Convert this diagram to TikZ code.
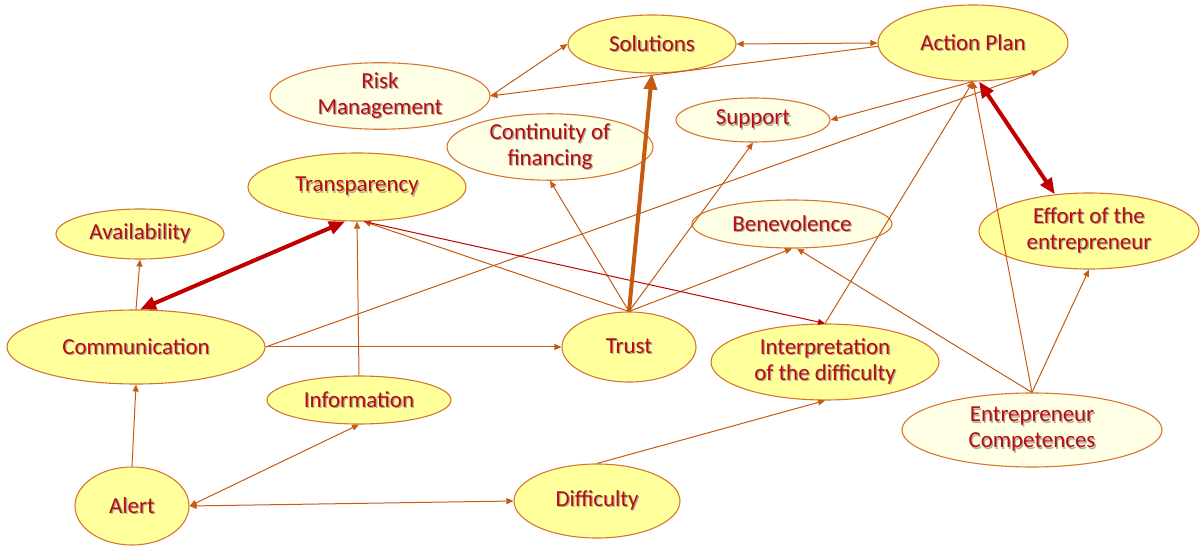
\documentclass[tikz,border=0pt]{standalone}
\usepackage{fontspec}
\setmainfont{Carlito}
\usetikzlibrary{arrows.meta,shapes.geometric}
\definecolor{lineor}{RGB}{197,90,17}
\definecolor{bord}{RGB}{214,118,48}
\definecolor{dred}{RGB}{192,0,0}
\definecolor{txt}{RGB}{185,10,20}
\definecolor{shad}{RGB}{175,170,150}
\definecolor{yel}{RGB}{255,255,155}
\definecolor{crm}{RGB}{255,255,230}
\newcommand\shtx[1]{\leavevmode\rlap{\hspace{1.3bp}\raisebox{-1.3bp}{\textcolor{shad}{#1}}}#1}
\tikzset{
  bub/.style={ellipse, draw=bord, line width=1.1bp, inner sep=0pt, align=center,
    text=txt, font=\fontsize{23}{26}\selectfont},
  ybub/.style={bub, fill=yel},
  cbub/.style={bub, fill=crm},
  arr/.style={draw=lineor, line width=1bp, -{Triangle[length=7bp,width=6bp]}},
  darr/.style={draw=lineor, line width=1bp, {Triangle[length=7bp,width=6bp]}-{Triangle[length=7bp,width=6bp]}},
  thinred/.style={draw=dred, line width=1bp, -{Triangle[length=7bp,width=6bp]}},
  thickred/.style={draw=dred, line width=4bp, {Triangle[length=16bp,width=13bp]}-{Triangle[length=16bp,width=13bp]}},
  thickor/.style={draw=lineor, line width=4bp, -{Triangle[length=16bp,width=13bp]}},
}
\begin{document}
\begin{tikzpicture}[x=1bp,y=-1bp]
\useasboundingbox (0,0) rectangle (1203,548);
% nodes
\node[ybub, minimum width=168bp, minimum height=58bp] (sol) at (652,44) {\shtx{Solutions}};
\node[ybub, minimum width=190bp, minimum height=76bp] (ap) at (973,43) {\shtx{Action Plan}};
\node[cbub, minimum width=220bp, minimum height=54bp] (rm) at (380,96) {\shtx{Risk}\\\shtx{Management}};
\node[cbub, minimum width=154bp, minimum height=44bp] (sup) at (753,120) {\shtx{Support}};
\node[cbub, minimum width=206bp, minimum height=64bp] (cof) at (550,147) {\shtx{Continuity of}\\\shtx{financing}};
\node[ybub, minimum width=218bp, minimum height=68bp] (tra) at (357,187) {\shtx{Transparency}};
\node[ybub, minimum width=168bp, minimum height=50bp] (ava) at (140,234) {\shtx{Availability}};
\node[ybub, minimum width=258bp, minimum height=74bp] (com) at (136,347) {\shtx{Communication}};
\node[cbub, minimum width=200bp, minimum height=48bp] (ben) at (792,224) {\shtx{Benevolence}};
\node[ybub, minimum width=220bp, minimum height=76bp] (eff) at (1089,231) {\shtx{Effort of the}\\\shtx{entrepreneur}};
\node[ybub, minimum width=134bp, minimum height=70bp] (tru) at (629,347) {\shtx{Trust}};
\node[ybub, minimum width=228bp, minimum height=76bp] (int) at (825,362) {\shtx{Interpretation}\\\shtx{of the difficulty}};
\node[ybub, minimum width=184bp, minimum height=48bp] (inf) at (359,400) {\shtx{Information}};
\node[ybub, minimum width=114bp, minimum height=78bp] (ale) at (132,506) {\shtx{Alert}};
\node[ybub, minimum width=166bp, minimum height=74bp] (dif) at (597,501) {\shtx{Difficulty}};
\node[cbub, minimum width=260bp, minimum height=74bp] (ec) at (1032,430) {\shtx{Entrepreneur}\\\shtx{Competences}};
% connectors
\draw[arr] (rm.east) -- (sol.west);
\draw[arr] (ap.182) -- (rm.east);
\draw[darr] (sol.east) -- (ap.west);
\draw[arr] (ap.south) -- (sup.east);
\draw[arr] (com.east) -- (ap.-23);
\draw[arr] (tru.north) -- (cof.south);
\draw[arr] (tru.north) -- (sup.south);
\draw[arr] (tru.north) -- (ben.south);
\draw[arr] (tru.north) -- ([xshift=7bp]tra.south);
\draw[thinred] ([xshift=7bp]tra.south) -- (int.north);
\draw[arr] (com.north) -- (ava.south);
\draw[arr] (com.east) -- (tru.west);
\draw[arr] (inf.north) -- (tra.south);
\draw[arr] (ale.north) -- (com.south);
\draw[darr] (ale.east) -- (inf.south);
\draw[darr] (ale.east) -- (dif.west);
\draw[arr] (dif.north) -- (int.south);
\draw[arr] (int.north) -- (ap.south);
\draw[arr] (ec.north) -- (ap.south);
\draw[arr] (ec.north) -- (eff.south);
\draw[arr] (ec.north) -- ([xshift=5bp]ben.south);
\draw[thickor] (tru.north) -- (sol.south);
\draw[thickred] ([xshift=4bp]com.north) -- ([xshift=-12bp]tra.south);
\draw[thickred] ([xshift=6bp]ap.south) -- (eff.133);
\end{tikzpicture}
\end{document}
